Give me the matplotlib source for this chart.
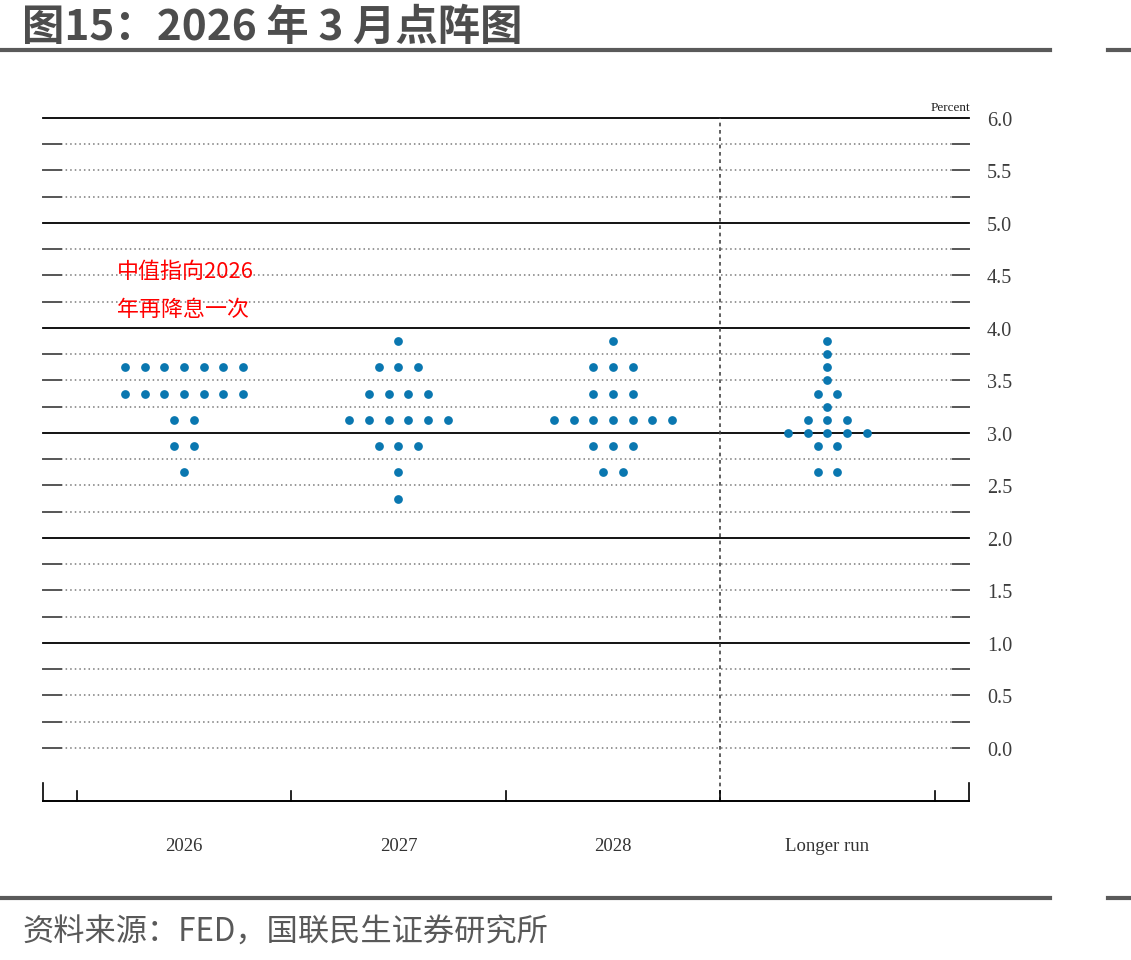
import matplotlib

matplotlib.use("Agg")
import matplotlib.pyplot as plt
import numpy as np
from matplotlib.lines import Line2D

plt.rcParams['font.family'] = ['Noto Sans CJK SC', 'DejaVu Sans']

# FOMC March 2026 dot plot: midpoint of target range -> number of participants
groups = ["2026", "2027", "2028", "Longer run"]
rates_2026 = [3.625, 3.375, 3.125, 2.875, 2.625]
counts_2026 = [7, 7, 2, 2, 1]
rates_2027 = [3.875, 3.625, 3.375, 3.125, 2.875, 2.625, 2.375]
counts_2027 = [1, 3, 4, 6, 3, 1, 1]
rates_2028 = [3.875, 3.625, 3.375, 3.125, 2.875, 2.625]
counts_2028 = [1, 3, 3, 7, 3, 2]
rates_longer = [3.875, 3.75, 3.625, 3.5, 3.375, 3.25, 3.125, 3.0, 2.875, 2.625]
counts_longer = [1, 1, 1, 1, 2, 1, 3, 5, 2, 2]
y_ticks = [0.0, 0.5, 1.0, 1.5, 2.0, 2.5, 3.0, 3.5, 4.0, 4.5, 5.0, 5.5, 6.0]

title = "图15：2026 年 3 月点阵图"
source = "资料来源：FED，国联民生证券研究所"
note_lines = ["中值指向2026", "年再降息一次"]

W, H = 1131, 960
DOT = "#0a77b0"
SERIF = ["Liberation Serif", "DejaVu Serif"]

fig = plt.figure(figsize=(W / 100, H / 100), dpi=100)
fig.patch.set_facecolor("white")


def fx(px):
    return px / W


def fy(py):
    return 1 - py / H


ax = fig.add_axes([fx(43), fy(801), fx(969 - 43), (801 - 118) / H])
xmin, xmax = -0.657, 3.660
ymin, ymax = -0.505, 6.0
ax.set_xlim(xmin, xmax)
ax.set_ylim(ymin, ymax)
ax.axis("off")

# horizontal guide lines
seg_l, seg_r = 0.084, 0.075
for v in np.arange(0, 6.01, 0.25):
    if v > 0 and float(v).is_integer():
        ax.plot([xmin, xmax], [v, v], color="black", lw=1.3, clip_on=False, zorder=1)
    else:
        ax.plot([xmin + seg_l, xmax - seg_r], [v, v], color="#7a7a7a", lw=1.1,
                linestyle=(0, (1, 2.0)), clip_on=False, zorder=1)
        ax.plot([xmin, xmin + seg_l], [v, v], color="#555555", lw=1.4, clip_on=False, zorder=1)
        ax.plot([xmax - seg_r, xmax], [v, v], color="#555555", lw=1.4, clip_on=False, zorder=1)

# bottom axis with caps and separators
ax.plot([xmin, xmax], [ymin, ymin], color="black", lw=1.4, clip_on=False)
for xc in (xmin, xmax):
    ax.plot([xc, xc], [ymin, ymin + 0.17], color="black", lw=1.2, clip_on=False)
for xt in [-0.5, 0.5, 1.5, 2.5, 3.5]:
    ax.plot([xt, xt], [ymin, ymin + 0.095], color="black", lw=1.2, clip_on=False)

# dashed divider before longer run
ax.plot([2.5, 2.5], [ymin, 6.0], color="#444444", lw=1.2, linestyle=(0, (2.2, 2.2)),
        clip_on=False, zorder=1)

# dots
spacing = 0.0918
all_rates = [rates_2026, rates_2027, rates_2028, rates_longer]
all_counts = [counts_2026, counts_2027, counts_2028, counts_longer]
for gi, (rates, counts) in enumerate(zip(all_rates, all_counts)):
    for r, n in zip(rates, counts):
        xs = gi + (np.arange(n) - (n - 1) / 2) * spacing
        ax.plot(xs, [r] * n, "o", color=DOT, markersize=6.3, markeredgewidth=0,
                clip_on=False, zorder=3)

# right-hand tick labels
for v in y_ticks:
    ax.text(3.744, v - 0.03, f"{v:.1f}", ha="left", va="center", fontsize=14.5,
            family=SERIF, color="#3c3c3c", clip_on=False)
ax.text(3.665, 6.095, "Percent", ha="right", va="center", fontsize=9.5,
        family=SERIF, color="#222222")

# category labels
for gi, g in enumerate(groups):
    ax.text(gi, -0.935, g, ha="center", va="center", fontsize=13.5,
            family=SERIF, color="#333333")

# red annotation
ax.text(-0.312, 4.535, note_lines[0], ha="left", va="center", fontsize=15.8, color="#ff0000")
ax.text(-0.312, 4.17, note_lines[1], ha="left", va="center", fontsize=15.8, color="#ff0000")

# title, source and rules
fig.text(fx(22), fy(28), title, ha="left", va="center", fontsize=30.5,
         fontweight="bold", color="#4d4d4d")
fig.text(fx(22), fy(933), source, ha="left", va="center", fontsize=22.5, color="#595959")
for py in (50, 898):
    fig.add_artist(Line2D([0, fx(1050)], [fy(py), fy(py)], lw=3, color="#5a5a5a"))
    fig.add_artist(Line2D([fx(1108), 1], [fy(py), fy(py)], lw=3, color="#5a5a5a"))

fig.savefig("out.png", dpi=100)
plt.close(fig)
